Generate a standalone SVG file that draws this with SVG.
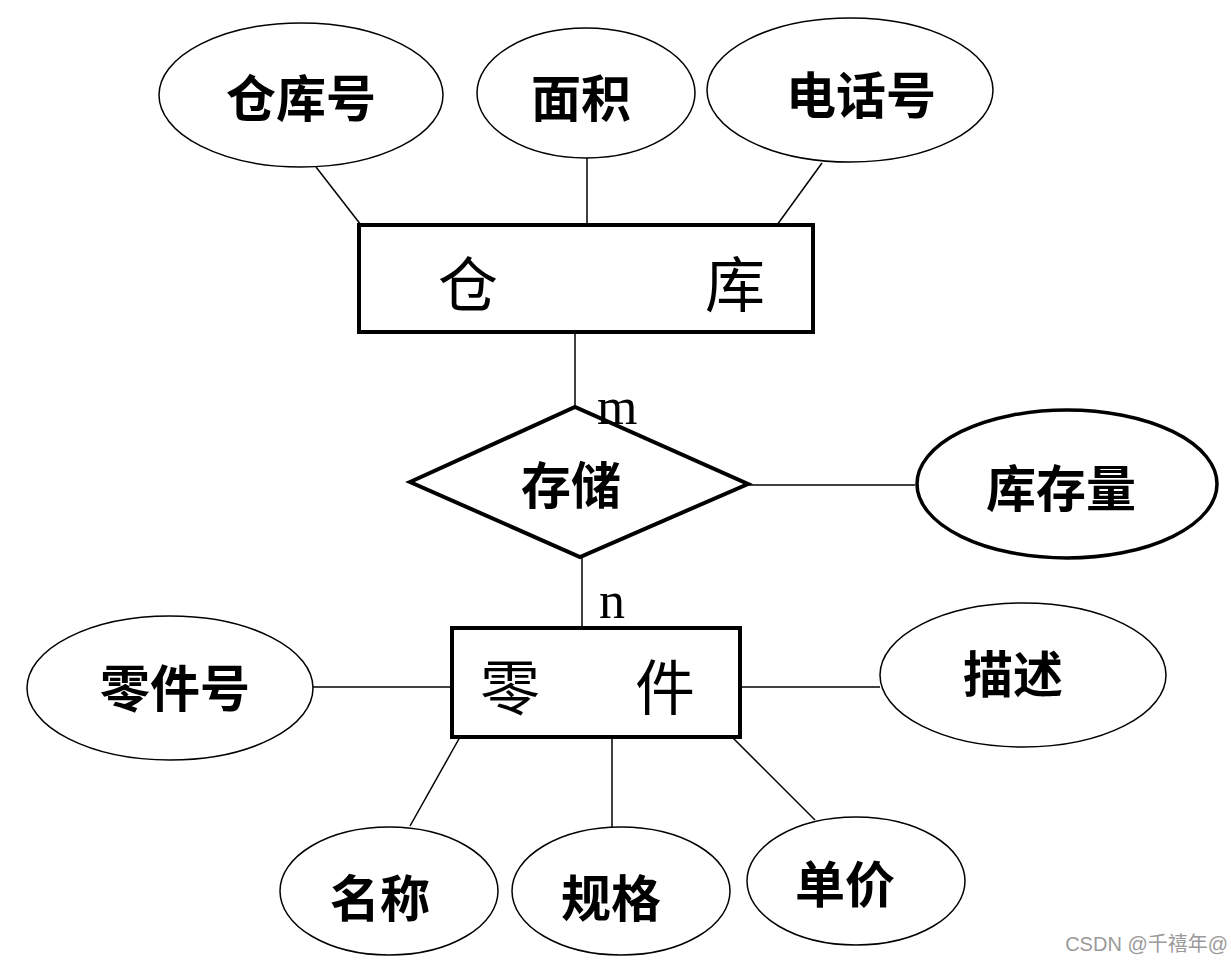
<svg xmlns="http://www.w3.org/2000/svg" width="1231" height="963" viewBox="0 0 1231 963">
<style>
.attr{fill:#fff;stroke:#000;stroke-width:1.5}
.attrb{fill:#fff;stroke:#000;stroke-width:3.5}
.ent{fill:#fff;stroke:#000;stroke-width:4}
.rel{fill:#fff;stroke:#000;stroke-width:4}
.ln{stroke:#000;stroke-width:1.5;fill:none}
.t{font-family:"Liberation Serif","Noto Sans CJK SC",serif;font-size:50px;font-weight:bold;text-anchor:middle;dominant-baseline:central;fill:#000}
.te{font-family:"Noto Sans CJK SC",sans-serif;font-size:60px;text-anchor:middle;dominant-baseline:central;fill:#000}
.card{font-family:"Liberation Serif",serif;font-size:52px;fill:#000}
.wm{font-family:"Liberation Sans","Noto Sans CJK SC",sans-serif;font-size:20px;fill:#9a9a9a;text-anchor:end}
</style>
<rect width="1231" height="963" fill="#fff"/>
<g id="connectors">
<line class="ln" x1="316" y1="167" x2="361" y2="225"/>
<line class="ln" x1="587" y1="158" x2="587" y2="225"/>
<line class="ln" x1="822" y1="163" x2="777" y2="225"/>
<line class="ln" x1="575" y1="332" x2="575" y2="407"/>
<line class="ln" x1="748" y1="485" x2="915" y2="485"/>
<line class="ln" x1="582" y1="557" x2="582" y2="628"/>
<line class="ln" x1="313" y1="687" x2="452" y2="687"/>
<line class="ln" x1="740" y1="687" x2="880" y2="687"/>
<line class="ln" x1="460" y1="737" x2="410" y2="826"/>
<line class="ln" x1="612" y1="737" x2="612" y2="828"/>
<line class="ln" x1="732" y1="737" x2="815" y2="820"/>
</g>
<g id="n-ckh"><ellipse class="attr" cx="301" cy="95" rx="142" ry="72"/><text class="t" x="301" y="100">仓库号</text></g>
<g id="n-mj"><ellipse class="attr" cx="586" cy="93" rx="109" ry="65"/><text class="t" x="581" y="100">面积</text></g>
<g id="n-dhh"><ellipse class="attr" cx="850" cy="90" rx="143" ry="72"/><text class="t" x="861" y="97">电话号</text></g>
<g id="n-ck"><rect class="ent" x="359" y="225" width="454" height="107"/><text class="te" x="468" y="280">仓</text><text class="te" x="735" y="280">库</text></g>
<g id="n-cc"><polygon class="rel" points="410,482 575,407 748,484 580,557"/><text class="t" x="571" y="487">存储</text></g>
<g id="n-kcl"><ellipse class="attrb" cx="1067" cy="484" rx="150" ry="74"/><text class="t" x="1061" y="490">库存量</text></g>
<g id="n-lj"><rect class="ent" x="452" y="628" width="288" height="109"/><text class="te" x="510" y="683">零</text><text class="te" x="665" y="683">件</text></g>
<g id="n-ljh"><ellipse class="attr" cx="170" cy="688" rx="143" ry="72"/><text class="t" x="175" y="690">零件号</text></g>
<g id="n-ms"><ellipse class="attr" cx="1023" cy="675" rx="143" ry="72"/><text class="t" x="1013" y="676">描述</text></g>
<g id="n-mc"><ellipse class="attr" cx="389" cy="891" rx="109" ry="64"/><text class="t" x="380" y="900">名称</text></g>
<g id="n-gg"><ellipse class="attr" cx="621" cy="891" rx="109" ry="64"/><text class="t" x="611" y="900">规格</text></g>
<g id="n-dj"><ellipse class="attr" cx="856" cy="881" rx="109" ry="64"/><text class="t" x="845" y="886">单价</text></g>
<text class="card" x="597" y="424">m</text>
<text class="card" x="599" y="618">n</text>
<text class="wm" x="1228" y="951">CSDN @千禧年@</text>
</svg>
